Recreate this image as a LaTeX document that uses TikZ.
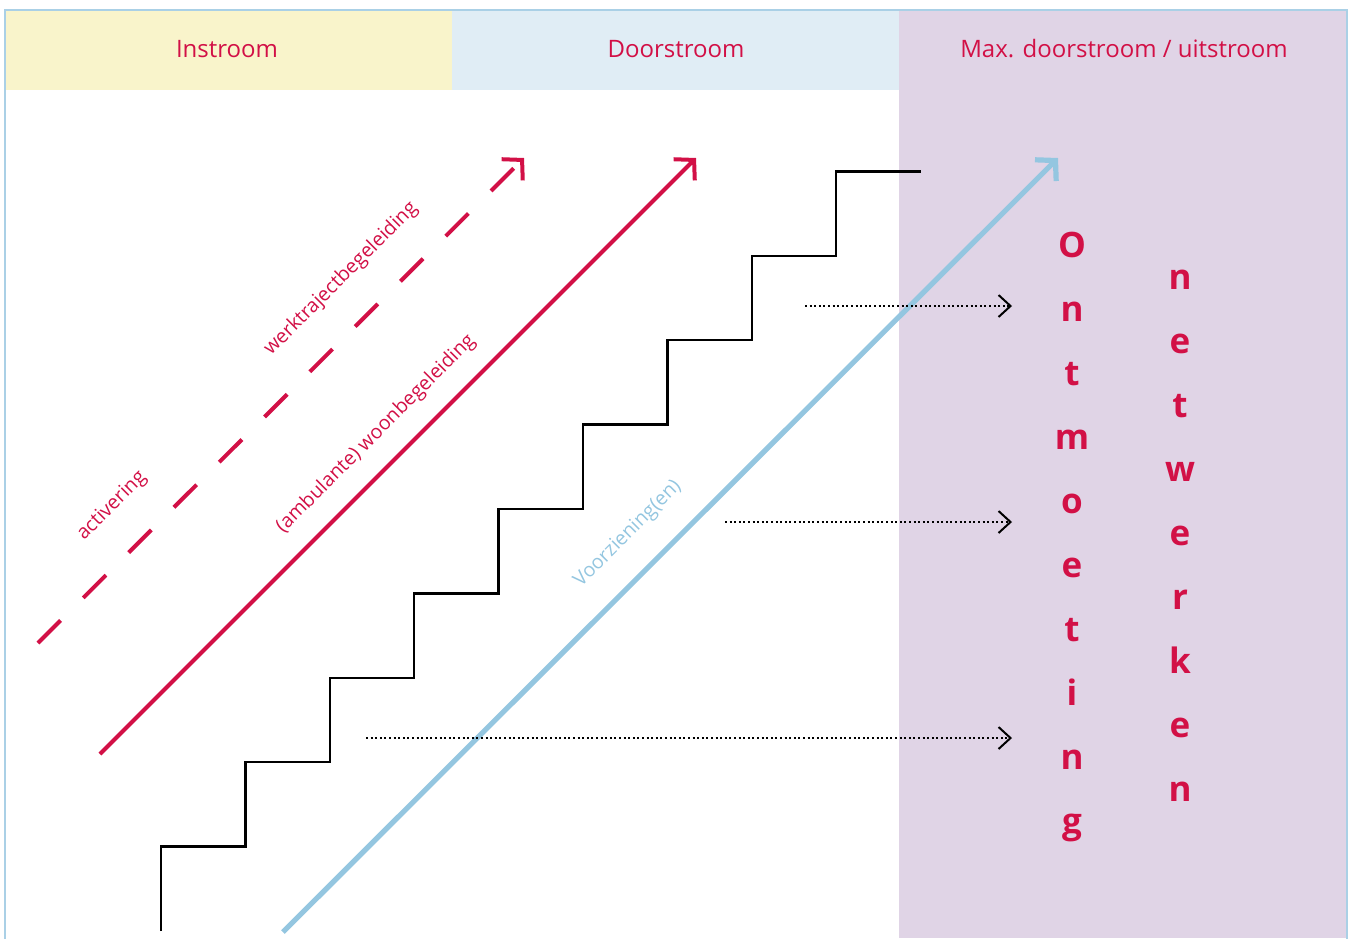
\documentclass[tikz,border=0pt]{standalone}
\usepackage{fontspec}
\setmainfont{Open Sans}
\usetikzlibrary{positioning}
\usetikzlibrary{arrows.meta}
\definecolor{rood}{RGB}{210,16,70}
\definecolor{geel}{RGB}{249,244,203}
\definecolor{ijsblauw}{RGB}{224,237,245}
\definecolor{paars}{RGB}{224,212,230}
\definecolor{hemel}{RGB}{148,198,224}
\definecolor{rand}{RGB}{170,208,230}

\begin{document}
\begin{tikzpicture}[x=0.5pt, y=-0.5pt,
    kop/.style={rood, font=\fontsize{12}{14}\selectfont},
    schuin/.style={rotate=45, inner sep=0pt, font=\fontsize{9.8}{12}\selectfont},
    letter/.style={rood, anchor=base, inner sep=0pt, font=\bfseries\fontsize{17.5}{20}\selectfont},
    pijl/.style={-{Straight Barb[length=7pt,width=15pt]}, line width=2pt},
    stip/.style={-{Straight Barb[length=6pt,width=11pt]}, line width=1pt, dash pattern=on 1pt off 1.3pt}]
            \useasboundingbox (0,0) rectangle (1352,938);
            \fill[geel] (5,10) rectangle (452,90);
            \fill[ijsblauw] (452,10) rectangle (899,90);
            \fill[paars] (899,10) rectangle (1347,938);
            \draw[rand, line width=0.6pt] (5,945) -- (5,10) -- (1347,10) -- (1347,945);

            \node[kop] (instroom) at (227,49) {Instroom};
            \node[kop] (doorstroom) at (676,49) {Doorstroom};
            \node[kop] (uitstroom) at (1124,49) {Max. doorstroom / uitstroom};

            \coordinate (act1) at (38,643);
            \coordinate (act2) at (524,158);
            \coordinate (woon1) at (100,754);
            \coordinate (woon2) at (696,158);
            \coordinate (voor1) at (283,932);
            \coordinate (voor2) at (1058,158);
            \draw[pijl, rood, dash pattern=on 16pt off 16pt] (act1) -- (act2);
            \draw[pijl, rood] (woon1) -- (woon2);
            \draw[pijl, hemel, line width=2.6pt] (voor1) -- (voor2);

            \draw[line width=1.2pt] (161,931) foreach \i in {1,...,9} { |- ++(84.4,-84.4) };

            \node[schuin, rood] (activering) at (112,506) {activering};
            \node[schuin, rood] (werk) at (341,279) {werktrajectbegeleiding};
            \node[schuin, rood] (woon) at (376,434) {(ambulante) woonbegeleiding};
            \node[schuin, hemel] (voorziening) at (628,534) {Voorziening(en)};

            \foreach \l [count=\i] in {O,n,t,m,o,e,t,i,n,g}
                \node[letter] (o\i) at (1072,{193+64*\i}) {\l};
            \foreach \l [count=\i] in {n,e,t,w,e,r,k,e,n}
                \node[letter] (n\i) at (1180,{225+64*\i}) {\l};

            \coordinate (s1) at (805,306);
            \coordinate (s2) at (725,522);
            \coordinate (s3) at (366,738);
            \foreach \i in {1,2,3}
                \draw[stip] (s\i) -- (1012,0 |- s\i);
        \end{tikzpicture}
\end{document}
